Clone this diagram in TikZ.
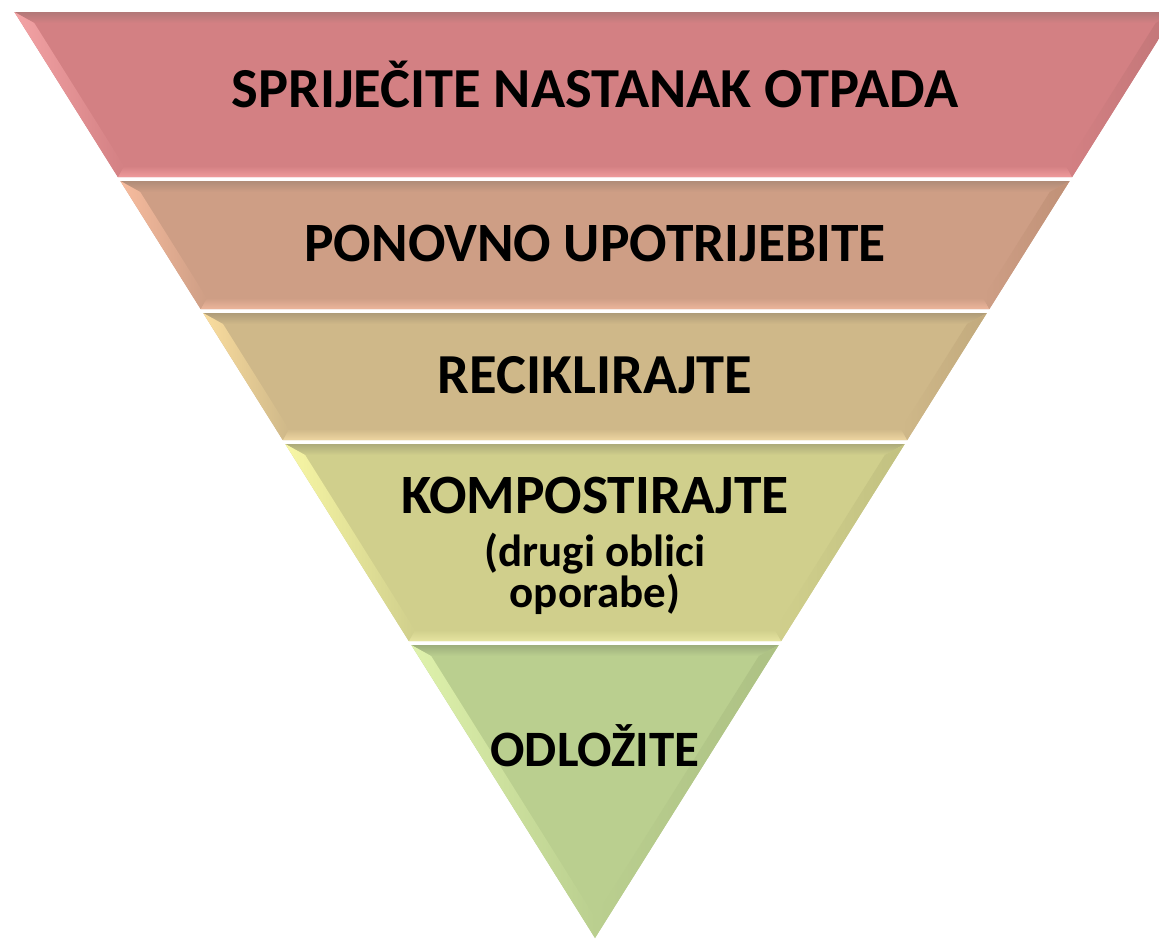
\documentclass[tikz,border=0pt]{standalone}
\usepackage{fontspec}
\setmainfont{Carlito}
\begin{document}
\begin{tikzpicture}[x=1pt,y=-1pt,
  lbl/.style={font=\bfseries\fontsize{#1}{60}\selectfont, text=black, anchor=base, inner sep=0pt},
  lbl/.default=56,
  sublbl/.style={font=\bfseries\fontsize{45}{45}\selectfont, text=black, anchor=base, inner sep=0pt}]
\useasboundingbox (0,0) rectangle (1159,940);
\clip (0,0) rectangle (1159,940);
\def\dd{11}
% band: #1 ytop, #2 ybot, #3 base, #4 top, #5 bottom, #6 left, #7 right
\newcommand{\mybandshape}[7]{%
  \pgfmathsetmacro\xla{595-0.627*(938-#1)}%
  \pgfmathsetmacro\xra{595+0.627*(938-#1)}%
  \pgfmathsetmacro\xlb{595-0.627*(938-#2)}%
  \pgfmathsetmacro\xrb{595+0.627*(938-#2)}%
  \pgfmathsetmacro\ixla{595-0.627*(938-#1-\dd)+1.18*\dd}%
  \pgfmathsetmacro\ixra{595+0.627*(938-#1-\dd)-1.18*\dd}%
  \pgfmathsetmacro\ixlb{595-0.627*(938-#2+\dd)+1.18*\dd}%
  \pgfmathsetmacro\ixrb{595+0.627*(938-#2+\dd)-1.18*\dd}%
  \pgfmathsetmacro\iya{#1+\dd}%
  \pgfmathsetmacro\iyb{#2-\dd}%
  \fill[#3] (\xla,#1) -- (\xra,#1) -- (\xrb,#2) -- (\xlb,#2) -- cycle;
  \shade[top color=#4, bottom color=#3] (\xla,#1) -- (\xra,#1) -- (\ixra,\iya) -- (\ixla,\iya) -- cycle;
  \shade[top color=#3, bottom color=#5] (\xlb,#2) -- (\xrb,#2) -- (\ixrb,\iyb) -- (\ixlb,\iyb) -- cycle;
  \shade[left color=#6, right color=#3] (\xla,#1) -- (\ixla,\iya) -- (\ixlb,\iyb) -- (\xlb,#2) -- cycle;
  \shade[left color=#3, right color=#7] (\xra,#1) -- (\ixra,\iya) -- (\ixrb,\iyb) -- (\xrb,#2) -- cycle;
}
\definecolor{bA}{HTML}{D38083}\definecolor{tA}{HTML}{B27878}\definecolor{oA}{HTML}{EF9A9B}\definecolor{lA}{HTML}{F3A3A5}\definecolor{rA}{HTML}{C27678}
\definecolor{bB}{HTML}{CE9E85}\definecolor{tB}{HTML}{B08C78}\definecolor{oB}{HTML}{ECB59B}\definecolor{lB}{HTML}{F7BC9E}\definecolor{rB}{HTML}{C09177}
\definecolor{bC}{HTML}{CFB889}\definecolor{tC}{HTML}{AF9C78}\definecolor{oC}{HTML}{EDD5A0}\definecolor{lC}{HTML}{FADD9E}\definecolor{rC}{HTML}{C2AA7D}
\definecolor{bD}{HTML}{D0CF8C}\definecolor{tD}{HTML}{ADAB7A}\definecolor{oD}{HTML}{E6E4A0}\definecolor{lD}{HTML}{F8F7A5}\definecolor{rD}{HTML}{C2C181}
\definecolor{bE}{HTML}{BACF8F}\definecolor{tE}{HTML}{9DAE7C}\definecolor{lE}{HTML}{DFF2AC}\definecolor{rE}{HTML}{ADC184}
\mybandshape{12}{177}{bA}{tA}{oA}{lA}{rA}
\mybandshape{181}{309}{bB}{tB}{oB}{lB}{rB}
\mybandshape{313}{440}{bC}{tC}{oC}{lC}{rC}
\mybandshape{444}{641}{bD}{tD}{oD}{lD}{rD}
% bottom triangle
\pgfmathsetmacro\xla{595-0.627*(938-645)}
\pgfmathsetmacro\xra{595+0.627*(938-645)}
\pgfmathsetmacro\ixla{595-0.627*(938-645-\dd)+1.18*\dd}
\pgfmathsetmacro\ixra{595+0.627*(938-645-\dd)-1.18*\dd}
\pgfmathsetmacro\iyap{938-1.88*\dd}
\fill[bE] (\xla,645) -- (\xra,645) -- (595,938) -- cycle;
\shade[top color=tE, bottom color=bE] (\xla,645) -- (\xra,645) -- (\ixra,656) -- (\ixla,656) -- cycle;
\shade[left color=lE, right color=bE] (\xla,645) -- (\ixla,656) -- (595,\iyap) -- (595,938) -- cycle;
\shade[left color=bE, right color=rE] (\xra,645) -- (\ixra,656) -- (595,\iyap) -- (595,938) -- cycle;
% labels
\node[lbl=56.5] (t1) at (595,107) {SPRIJEČITE NASTANAK OTPADA};
\node[lbl=55.5] (t2) at (595,261) {PONOVNO UPOTRIJEBITE};
\node[lbl=56.5] (t3) at (595,393) {RECIKLIRAJTE};
\node[lbl=55.5] (t4) at (595,513) {KOMPOSTIRAJTE};
\node[sublbl] (t4a) at (595,566) {(drugi oblici};
\node[sublbl] (t4b) at (595,607) {oporabe)};
\node[lbl=51] (t5) at (595,766) {ODLOŽITE};
\end{tikzpicture}
\end{document}
